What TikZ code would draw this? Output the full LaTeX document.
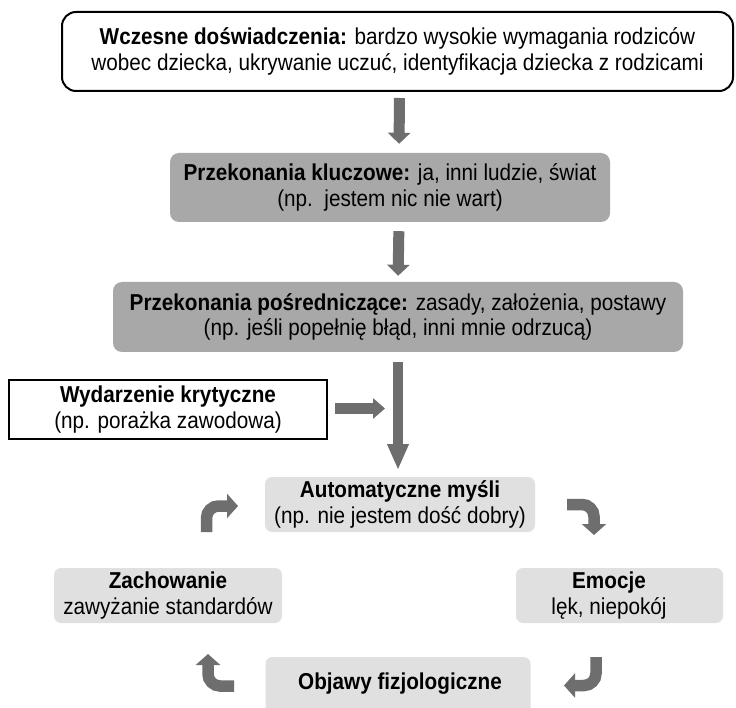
\documentclass[tikz,border=0pt]{standalone}
\usepackage{fontspec}
\setmainfont{Liberation Sans}[FakeStretch=0.9]
\usetikzlibrary{arrows.meta}
\definecolor{arrgray}{HTML}{6E6E6E}
\definecolor{midgray}{HTML}{A8A8A8}
\definecolor{lightgray}{HTML}{E0E0E0}
\tikzset{
  boxtext/.style={align=center,font=\fontsize{23}{25.5}\selectfont,inner sep=0pt},
  topbox/.style={boxtext,draw=black,line width=2pt,rounded corners=14pt,fill=white},
  eventbox/.style={boxtext,draw=black,line width=1.6pt,fill=white},
  midbox/.style={boxtext,fill=midgray,rounded corners=9pt},
  lightbox/.style={boxtext,fill=lightgray,rounded corners=7pt},
  bigarrow/.style={draw=arrgray,line width=11pt,-{Triangle[length=11pt,width=22pt]}},
  longarrow/.style={draw=arrgray,line width=10pt,-{Triangle[length=26pt,width=20pt]}},
  bendarrow/.style={draw=arrgray,line width=11.5pt,rounded corners=12pt,-{Triangle[length=11pt,width=24pt]}}
}
\begin{document}
\begin{tikzpicture}[x=1pt,y=-1pt]
\useasboundingbox (0,0) rectangle (736,708);
\fill[white] (0,0) rectangle (736,708);

\node[topbox,minimum width=671pt,minimum height=79pt] (early) at (397.5,51.5)
  {\textbf{Wczesne doświadczenia:} bardzo wysokie wymagania rodziców\\wobec dziecka, ukrywanie uczuć, identyfikacja dziecka z rodzicami};

\node[midbox,minimum width=440pt,minimum height=69pt] (core) at (390,187.5)
  {\textbf{Przekonania kluczowe:} ja, inni ludzie, świat\\(np.\ \ jestem nic nie wart)};

\node[midbox,minimum width=570pt,minimum height=70pt] (inter) at (398,317)
  {\textbf{Przekonania pośredniczące:} zasady, założenia, postawy\\(np. jeśli popełnię błąd, inni mnie odrzucą)};

\node[eventbox,minimum width=318pt,minimum height=59pt] (event) at (168,409.5)
  {\textbf{Wydarzenie krytyczne}\\(np. porażka zawodowa)};

\node[lightbox,minimum width=270pt,minimum height=55pt] (auto) at (400,504.5)
  {\textbf{Automatyczne myśli}\\(np. nie jestem dość dobry)};

\node[lightbox,minimum width=228pt,minimum height=55pt] (behav) at (168,595.5)
  {\textbf{Zachowanie}\\zawyżanie standardów};

\node[lightbox,minimum width=207pt,minimum height=55pt] (emo) at (619.5,595.5) {};
\node[boxtext] (emotxt) at (609,595.5) {\textbf{Emocje}\\lęk, niepokój};

\node[lightbox,minimum width=265pt,minimum height=62pt] (phys) at (398,688) {};
\node[boxtext] (phystxt) at (400,684) {\textbf{Objawy fizjologiczne}};

% vertical arrows
\draw[bigarrow,shorten <=6pt,shorten >=9pt] ([xshift=2pt]early.south) -- ([xshift=9pt]core.north);
\draw[bigarrow,shorten <=9pt,shorten >=6pt] ([xshift=9pt]core.south) -- ([xshift=0pt]inter.north);
\draw[longarrow,shorten <=10pt,shorten >=7pt] ([xshift=0pt]inter.south) -- (398,477);
\coordinate (evtip) at (385,408.5);
\draw[draw=arrgray,line width=11pt,-{Triangle[length=12pt,width=20pt]},shorten <=7pt] (event.east |- evtip) -- (evtip);

% cycle arrows
\coordinate (a1s) at (206.5,532);
\coordinate (a1e) at (238,506);
\draw[bendarrow] (a1s) -- (206.5,506) -- (a1e);
\coordinate (a2s) at (567,504.5);
\coordinate (a2e) at (594,535);
\draw[bendarrow] (a2s) -- (594,504.5) -- (a2e);
\coordinate (a3s) at (596,657);
\coordinate (a3e) at (564,685.5);
\draw[bendarrow] (a3s) -- (596,685.5) -- (a3e);
\coordinate (a4s) at (234,686);
\coordinate (a4e) at (208,654);
\draw[bendarrow] (a4s) -- (208,686) -- (a4e);
\end{tikzpicture}
\end{document}
